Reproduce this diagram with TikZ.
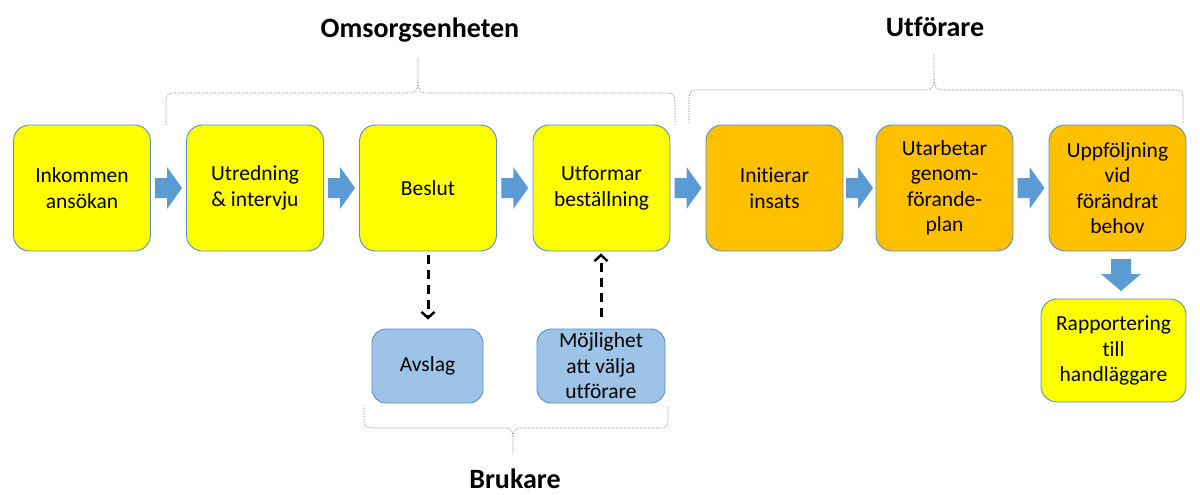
\documentclass[tikz,border=0pt]{standalone}
\usepackage{fontspec}
\setmainfont[Ligatures={NoCommon}]{Carlito}
\usetikzlibrary{calc,arrows.meta}
\definecolor{yel}{HTML}{FFFF00}
\definecolor{ora}{HTML}{FFC000}
\definecolor{lblue}{HTML}{9DC3E6}
\definecolor{bord}{HTML}{5B8FC7}
\definecolor{arrfill}{HTML}{5B9BD5}
\tikzset{
  stepbox/.style={draw=bord, line width=0.9pt, rounded corners=16pt, minimum width=137pt, minimum height=126pt, align=center, inner sep=0pt, font=\fontsize{21.5}{25.5}\selectfont},
  ybox/.style={stepbox, fill=yel},
  obox/.style={stepbox, fill=ora},
  bbox/.style={draw=bord, line width=0.9pt, fill=lblue, rounded corners=14pt, minimum height=74pt, align=center, inner sep=0pt, font=\fontsize{21.5}{25.5}\selectfont},
  blockarr/.style={fill=arrfill, draw=none},
  dasharrow/.style={line width=3pt, dash pattern=on 9pt off 6pt, -{Straight Barb[length=6pt,width=13pt,line width=2.4pt]}},
  bracel/.style={gray!80!black, line width=0.6pt, densely dotted},
  title/.style={font=\fontsize{28}{32}\selectfont\bfseries}
}
\begin{document}
\begin{tikzpicture}[x=1pt,y=-1pt]
\useasboundingbox (0,0) rectangle (1200,495);
% main boxes
\node[ybox] (b1) at (82,188) {Inkommen\\ansökan};
\node[ybox] (b2) at (255,188) {Utredning\\\& intervju};
\node[ybox] (b3) at (428,188) {Beslut};
\node[ybox] (b4) at (601.5,188) {Utformar\\beställning};
\node[obox] (b5) at (774.5,188) {Initierar\\insats};
\node[obox] (b6) at (944.5,188) {Utarbetar\\genom-\\förande-\\plan};
\node[obox] (b7) at (1117.5,188) {Uppföljning\\vid\\förändrat\\behov};
\node[ybox, minimum width=145pt, minimum height=103pt] (rap) at (1113.5,350.5) {Rapportering\\till\\handläggare};
\node[bbox, minimum width=111pt] (avs) at (427.5,366) {Avslag};
\node[bbox, minimum width=128pt] (moj) at (601,366) {Möjlighet\\att välja\\utförare};
% block arrows
\foreach \a/\b in {b1/b2,b2/b3,b3/b4,b4/b5,b5/b6,b6/b7}{
  \fill[blockarr, shift={($(\a.east)!.5!(\b.west)$)}]
    (-13.5,-10) -- (-1.5,-10) -- (-1.5,-21) -- (13.5,0) -- (-1.5,21) -- (-1.5,10) -- (-13.5,10) -- cycle;
}
\coordinate (dmid) at ($(b7.south)!.5!(rap.north)$);
\fill[blockarr, shift={($(dmid)+(5.5,0)$)}]
  (-10,-16) -- (10,-16) -- (10,-1) -- (20,-1) -- (0,16) -- (-20,-1) -- (-10,-1) -- cycle;
% dashed arrows
\draw[dasharrow, shorten <=4pt, shorten >=9pt] (b3.south) -- (b3.south |- avs.north);
\draw[dasharrow, shorten <=12pt, shorten >=2pt] (moj.north) -- (moj.north |- b4.south);
% braces
\draw[bracel] (166,125) -- (166,101) .. controls (166,95) and (168,93) .. (174,93) -- (410,93)
  .. controls (415,93) and (418,90) .. (418,82) -- (418,58);
\draw[bracel] (418,82) .. controls (418,90) and (421,93) .. (426,93) -- (667,93)
  .. controls (673,93) and (675,95) .. (675,101) -- (675,125);
\draw[bracel] (689,123) -- (689,98) .. controls (689,92) and (691,90) .. (697,90) -- (926,90)
  .. controls (931,90) and (934,87) .. (934,79) -- (934,53);
\draw[bracel] (934,79) .. controls (934,87) and (937,90) .. (942,90) -- (1175,90)
  .. controls (1181,90) and (1183,92) .. (1183,98) -- (1183,123);
\draw[bracel] (364,405) -- (364,420) .. controls (364,426) and (366,428) .. (372,428) -- (505,428)
  .. controls (510,428) and (513,431) .. (513,437) -- (513,455);
\draw[bracel] (513,437) .. controls (513,431) and (516,428) .. (521,428) -- (660,428)
  .. controls (666,428) and (668,426) .. (668,420) -- (668,405);
% titles
\node[title] (t1) at (420,30) {Omsorgsenheten};
\node[title] (t2) at (935,27) {Utförare};
\node[title] (t3) at (515,479) {Brukare};
\end{tikzpicture}
\end{document}
